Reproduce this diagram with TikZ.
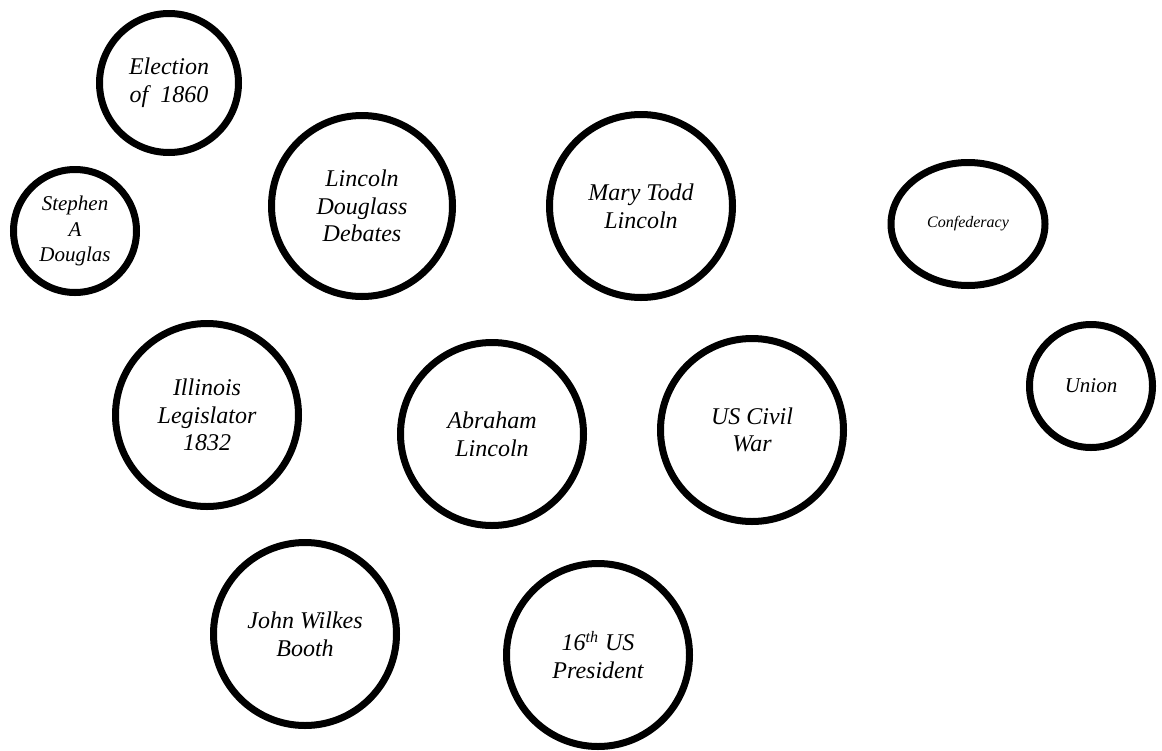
\documentclass[tikz,border=0pt]{standalone}
\usepackage{fontspec}
\setmainfont{Liberation Serif}
\usetikzlibrary{shapes.geometric}

\tikzset{
  bubble/.style={draw, line width=3.5pt, circle, inner sep=0pt, align=center,
    font=\itshape\fontsize{12}{13.8}\selectfont, minimum size=91.5pt},
  smallbubble/.style={bubble, minimum size=61.5pt,
    font=\itshape\fontsize{10.5}{12.6}\selectfont},
}

\begin{document}
\begin{tikzpicture}[x=0.5pt, y=-0.5pt]
\useasboundingbox (0,0) rectangle (1162,750);

\node[bubble, minimum size=69.5pt] (election) at (169,83) {Election\\of~~1860};
\node[smallbubble] (douglas) at (75,231) {Stephen\\A\\Douglas};
\node[bubble, minimum size=90.5pt] (debates) at (362,206) {Lincoln\\Douglass\\Debates};
\node[bubble] (marytodd) at (641,206) {Mary Todd\\Lincoln};
\node[bubble, ellipse, minimum width=77pt, minimum height=61.5pt,
  font=\itshape\fontsize{8}{9.6}\selectfont] (confederacy) at (968,224) {Confederacy};
\node[smallbubble] (union) at (1091,386) {Union};

\node[bubble] (illinois) at (207,415) {Illinois\\Legislator\\1832};
\node[bubble] (abraham) at (492,434) {Abraham\\Lincoln};
\node[bubble] (civilwar) at (752,430) {US Civil\\War};

\node[bubble] (booth) at (305,634) {John Wilkes\\Booth};
\node[bubble] (president) at (598,655) {16\textsuperscript{th} US\\President};

\end{tikzpicture}
\end{document}
